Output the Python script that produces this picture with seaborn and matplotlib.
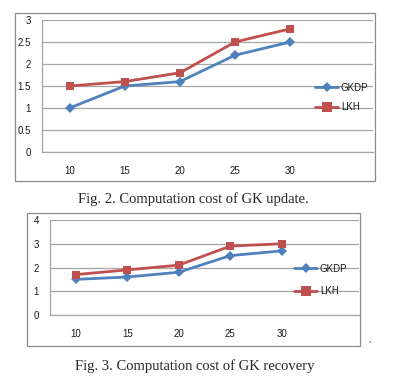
import seaborn as sns
import pandas as pd
import matplotlib.pyplot as plt
from matplotlib.patches import Rectangle
from matplotlib.ticker import FixedLocator

# chart data
groups = ["10", "15", "20", "25", "30"]
update_gkdp = [1.0, 1.5, 1.6, 2.2, 2.5]
update_lkh = [1.5, 1.6, 1.8, 2.5, 2.8]
recovery_gkdp = [1.5, 1.6, 1.8, 2.5, 2.7]
recovery_lkh = [1.7, 1.9, 2.1, 2.9, 3.0]

blue = "#4F81BD"
red = "#C0504D"
grid_c = "#A6A6A6"

sns.set_style("white")
plt.rcParams["font.family"] = ["Liberation Sans", "DejaVu Sans"]

W, H = 400, 381
fig = plt.figure(figsize=(W / 100, H / 100), dpi=100)


def px_axes(left, top, right, bottom):
    return fig.add_axes([left / W, 1 - bottom / H, (right - left) / W, (bottom - top) / H])


def draw(ax, gkdp, lkh, ymax, ystep, leg_xy, leg_sp):
    df = pd.DataFrame({"pos": range(len(groups)), "GKDP": gkdp, "LKH": lkh})
    sns.lineplot(data=df, x="pos", y="GKDP", ax=ax, color=blue, lw=2,
                 marker="D", markersize=5, markeredgewidth=0, label="GKDP")
    sns.lineplot(data=df, x="pos", y="LKH", ax=ax, color=red, lw=2,
                 marker="s", markersize=6, markeredgewidth=0, label="LKH")
    ax.set_xlim(-0.5, 5.5)
    ax.set_ylim(0, ymax)
    yt = [i * ystep for i in range(int(round(ymax / ystep)) + 1)]
    ax.set_yticks(yt)
    ax.set_yticklabels([("%g" % v) for v in yt])
    ax.set_xticks(range(len(groups)))
    ax.set_xticklabels(groups)
    ax.xaxis.set_minor_locator(FixedLocator([i - 0.5 for i in range(7)]))
    ax.tick_params(axis="x", which="major", length=0, pad=10, labelsize=7, colors="#1a1a1a")
    ax.tick_params(axis="x", which="minor", length=3, width=0.8, color=grid_c, direction="out")
    ax.tick_params(axis="y", length=3, width=0.8, color=grid_c, direction="out",
                   pad=5, labelsize=7, labelcolor="#1a1a1a")
    ax.grid(axis="y", color=grid_c, lw=0.9)
    ax.set_axisbelow(True)
    for s in ["top", "right"]:
        ax.spines[s].set_visible(False)
    for s in ["left", "bottom"]:
        ax.spines[s].set_color(grid_c)
        ax.spines[s].set_linewidth(0.9)
    ax.set_xlabel("")
    ax.set_ylabel("")
    leg = ax.legend(loc="center left", bbox_to_anchor=leg_xy, frameon=False,
                    fontsize=7, handlelength=2.4, handletextpad=0.25,
                    labelspacing=leg_sp, borderpad=0, borderaxespad=0,
                    markerscale=1.1)
    for t in leg.get_texts():
        t.set_color("#1a1a1a")


ax1 = px_axes(42, 20, 373, 152)
draw(ax1, update_gkdp, update_lkh, 3, 0.5, (0.825, 0.413), 1.0)

ax2 = px_axes(50, 220, 359, 315)
draw(ax2, recovery_gkdp, recovery_lkh, 4, 1, (0.79, 0.368), 1.3)

# chart borders
for (l, t, r, b) in [(15, 13, 375, 181), (27, 213, 360, 346)]:
    fig.add_artist(Rectangle((l / W, 1 - b / H), (r - l) / W, (b - t) / H,
                             transform=fig.transFigure, fill=False,
                             edgecolor="#8C8C8C", lw=0.9))

serif = ["Liberation Serif", "DejaVu Serif"]
fig.text(193 / W, 1 - 199 / H, "Fig. 2. Computation cost of GK update.",
         ha="center", va="center", fontsize=10.5, family=serif)
fig.text(195 / W, 1 - 366 / H, "Fig. 3. Computation cost of GK recovery",
         ha="center", va="center", fontsize=10.5, family=serif)
fig.text(370 / W, 1 - 340 / H, ",", ha="center", va="center", fontsize=6, family=serif)

fig.savefig("out.png", dpi=100)
